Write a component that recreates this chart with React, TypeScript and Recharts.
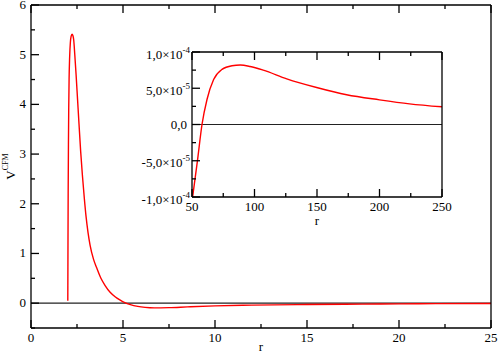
import { LineChart, Line, XAxis, YAxis, ReferenceLine } from 'recharts';

const FONT = 'Liberation Serif';

// main curve
const mainR = [2.0, 2.01, 2.02, 2.035, 2.05, 2.07, 2.1, 2.14, 2.18, 2.23, 2.28, 2.32, 2.38, 2.45, 2.53, 2.61, 2.7, 2.79, 2.9, 2.99, 3.1, 3.21, 3.4, 3.57, 3.8, 4.02, 4.3, 4.57, 4.85, 5.1, 5.4, 5.8, 6.2, 6.7, 7.5, 8.5, 10, 12, 15, 18, 20, 22, 25];
const mainV = [0.05, 1.2, 2.2, 3.2, 3.9, 4.5, 4.95, 5.25, 5.37, 5.41, 5.38, 5.3, 5.0, 4.6, 4.1, 3.6, 3.05, 2.59, 2.1, 1.75, 1.42, 1.17, 0.88, 0.71, 0.5, 0.36, 0.22, 0.13, 0.06, 0.01, -0.03, -0.065, -0.085, -0.095, -0.09, -0.075, -0.055, -0.04, -0.028, -0.02, -0.015, -0.01, -0.006];

// inset, large r tail
const insetR = [50.5, 54.5, 58, 62, 67.3, 74, 82, 88.6, 96.5, 107, 125.8, 149.7, 173.7, 200, 224, 250];
const insetV = [-1e-4, -4.8e-5, 0, 3.45e-5, 6.2e-5, 7.6e-5, 8.1e-5, 8.2e-5, 8.0e-5, 7.5e-5, 6.3e-5, 5.1e-5, 4.1e-5, 3.4e-5, 2.85e-5, 2.44e-5];

const mainXTicks = [0, 2.5, 5, 7.5, 10, 12.5, 15, 17.5, 20, 22.5, 25];
const mainXLabels = [0, 5, 10, 15, 20, 25];
const mainYTicks = [-0.5, 0, 0.5, 1, 1.5, 2, 2.5, 3, 3.5, 4, 4.5, 5, 5.5, 6];
const mainYLabels = [0, 1, 2, 3, 4, 5, 6];

const insetXTicks = [50, 75, 100, 125, 150, 175, 200, 225, 250];
const insetXLabels = [50, 100, 150, 200, 250];
const insetYTicks = [-1e-4, -7.5e-5, -5e-5, -2.5e-5, 0, 2.5e-5, 5e-5, 7.5e-5, 1e-4];
const insetYLabels = [-1e-4, -5e-5, 0, 5e-5, 1e-4];

const mainData = mainR.map((r, i) => ({ r, v: mainV[i] }));
const insetData = insetR.map((r, i) => ({ r, v: insetV[i] }));

type Side = 'bottom' | 'top' | 'left' | 'right';

function sciLabel(v: number, x: number, y: number) {
  if (v === 0) {
    return (
      <text x={x - 5} y={y + 4.5} textAnchor="end" fontSize={13} fontFamily={FONT} fill="#000">
        0,0
      </text>
    );
  }
  const e = Math.floor(Math.log10(Math.abs(v)) + 1e-9);
  const m = v / Math.pow(10, e);
  const mant = m.toFixed(1).replace('.', ',');
  return (
    <text x={x - 2} y={y + 6.5} textAnchor="end" fontSize={13} fontFamily={FONT} fill="#000">
      <tspan>{mant}×10</tspan>
      <tspan dy={-6} fontSize={9}>{String(e)}</tspan>
    </text>
  );
}

function makeTick(side: Side, labels: number[], withText: boolean, sci = false) {
  return (props: any) => {
    const { x, y, payload } = props;
    const v = payload.value as number;
    const major = labels.some(l => Math.abs(l - v) < Math.abs(l) * 1e-6 + 1e-12);
    const len = major ? 8 : 4;
    let x2 = x;
    let y2 = y;
    if (side === 'bottom') y2 = y - len;
    else if (side === 'top') y2 = y + len;
    else if (side === 'left') x2 = x + len;
    else x2 = x - len;
    let label = null;
    if (withText && major) {
      if (side === 'bottom') {
        label = (
          <text x={x} y={y + 14} textAnchor="middle" fontSize={13} fontFamily={FONT} fill="#000">
            {String(v)}
          </text>
        );
      } else if (side === 'left') {
        label = sci ? sciLabel(v, x, y) : (
          <text x={x - 5} y={y + 4} textAnchor="end" fontSize={13} fontFamily={FONT} fill="#000">
            {String(v)}
          </text>
        );
      }
    }
    return (
      <g>
        <path d={`M${x},${y}L${x2},${y2}`} stroke="#000" strokeWidth={1.3} fill="none" />
        {label}
      </g>
    );
  };
}

const YLabel = (props: any) => {
  const { viewBox } = props;
  const cx = 15;
  const cy = viewBox.y + viewBox.height / 2;
  return (
    <text x={cx} y={cy} transform={`rotate(-90 ${cx} ${cy})`} textAnchor="middle" fontSize={13} fontFamily={FONT} fill="#000">
      <tspan>V</tspan>
      <tspan dy={-7} fontSize={8}>CFM</tspan>
    </text>
  );
};

const XLabel = (yOff: number) => (props: any) => {
  const { viewBox } = props;
  return (
    <text x={viewBox.x + viewBox.width / 2} y={viewBox.y + yOff} textAnchor="middle" fontSize={13} fontFamily={FONT} fill="#000">
      r
    </text>
  );
};

const axisLine = { stroke: '#000', strokeWidth: 1.3 };

export default function App() {
  return (
    <div style={{ position: 'absolute', left: 0, top: 0, width: 498, height: 354, background: '#fff' }}>
      <div style={{ position: 'absolute', left: 0, top: 0 }}>
        <LineChart width={498} height={354} data={mainData} margin={{ top: 4, right: 6, left: 0, bottom: 0 }}>
          <XAxis dataKey="r" type="number" domain={[0, 25]} ticks={mainXTicks} interval={0}
            height={26} tickSize={0} tickMargin={0} tickLine={false} axisLine={axisLine}
            tick={makeTick('bottom', mainXLabels, true)} label={{ content: XLabel(23) }} />
          <XAxis xAxisId="top" orientation="top" dataKey="r" type="number" domain={[0, 25]} ticks={mainXTicks} interval={0}
            height={1} tickSize={0} tickMargin={0} tickLine={false} axisLine={axisLine}
            tick={makeTick('top', mainXLabels, false)} />
          <YAxis type="number" domain={[-0.5, 6]} ticks={mainYTicks} interval={0}
            width={31} tickSize={0} tickMargin={0} tickLine={false} axisLine={axisLine}
            tick={makeTick('left', mainYLabels, true)} label={{ content: YLabel }} />
          <YAxis yAxisId="right" orientation="right" type="number" domain={[-0.5, 6]} ticks={mainYTicks} interval={0}
            width={1} tickSize={0} tickMargin={0} tickLine={false} axisLine={axisLine}
            tick={makeTick('right', mainYLabels, false)} />
          <ReferenceLine y={0} stroke="#222" strokeWidth={1.2} />
          <Line dataKey="v" type="monotone" stroke="#ff0000" strokeWidth={1.4}
            dot={false} isAnimationActive={false} />
        </LineChart>
      </div>
      <div style={{ position: 'absolute', left: 130, top: 40 }}>
        <LineChart width={332} height={190} data={insetData} margin={{ top: 11, right: 19, left: 0, bottom: 0 }}>
          <XAxis dataKey="r" type="number" domain={[50, 250]} ticks={insetXTicks} interval={0}
            height={33} tickSize={0} tickMargin={0} tickLine={false} axisLine={axisLine}
            tick={makeTick('bottom', insetXLabels, true)} label={{ content: XLabel(28) }} />
          <XAxis xAxisId="top" orientation="top" dataKey="r" type="number" domain={[50, 250]} ticks={insetXTicks} interval={0}
            height={1} tickSize={0} tickMargin={0} tickLine={false} axisLine={axisLine}
            tick={makeTick('top', insetXLabels, false)} />
          <YAxis type="number" domain={[-1e-4, 1e-4]} ticks={insetYTicks} interval={0}
            width={62} tickSize={0} tickMargin={0} tickLine={false} axisLine={axisLine}
            tick={makeTick('left', insetYLabels, true, true)} />
          <YAxis yAxisId="right" orientation="right" type="number" domain={[-1e-4, 1e-4]} ticks={insetYTicks} interval={0}
            width={1} tickSize={0} tickMargin={0} tickLine={false} axisLine={axisLine}
            tick={makeTick('right', insetYLabels, false)} />
          <ReferenceLine y={0} stroke="#222" strokeWidth={1.2} />
          <Line dataKey="v" type="monotone" stroke="#ff0000" strokeWidth={1.4}
            dot={false} isAnimationActive={false} />
        </LineChart>
      </div>
    </div>
  );
}
